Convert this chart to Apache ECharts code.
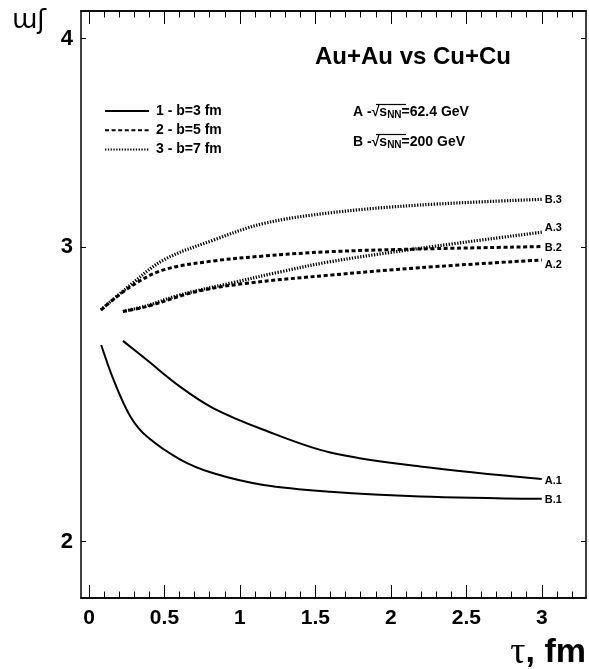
<!DOCTYPE html>
<html><head><meta charset="utf-8">
<script src="https://cdn.jsdelivr.net/npm/echarts@6/dist/echarts.min.js"></script>
<style>html,body{margin:0;padding:0;background:#fff}#c{width:589px;height:669px}</style>
</head><body><div id="c"></div>
<script>
// ---- data ----
const xTickValues = [0, 0.5, 1, 1.5, 2, 2.5, 3];
const xMinorTickValues = [0.1, 0.2, 0.3, 0.4, 0.6, 0.7, 0.8, 0.9, 1.1, 1.2, 1.3, 1.4, 1.6, 1.7, 1.8, 1.9,
  2.1, 2.2, 2.3, 2.4, 2.6, 2.7, 2.8, 2.9, 3.1, 3.2];
const yTickValues = [2, 3, 4];
const legendNames = ['1 - b=3 fm', '2 - b=5 fm', '3 - b=7 fm'];

const tauA1 = [0.225, 0.384, 0.605, 0.825, 1.156, 1.598, 2.194, 3.0];
const valA1 = [2.637, 2.568, 2.475, 2.403, 2.333, 2.261, 2.218, 2.180];
const tauB1 = [0.081, 0.163, 0.274, 0.384, 0.605, 0.825, 1.156, 1.598, 2.194, 3.0];
const valB1 = [2.622, 2.499, 2.376, 2.311, 2.239, 2.197, 2.162, 2.142, 2.128, 2.121];
const tauA2 = [0.225, 0.384, 0.715, 1.046, 1.598, 2.194, 3.0];
const valA2 = [2.746, 2.765, 2.823, 2.855, 2.887, 2.917, 2.948];
const tauB2 = [0.079, 0.274, 0.494, 0.825, 1.156, 1.598, 2.194, 3.0];
const valB2 = [2.752, 2.841, 2.908, 2.944, 2.964, 2.982, 2.993, 3.003];
const tauA3 = [0.225, 0.384, 0.605, 0.936, 1.267, 1.598, 2.194, 3.0];
const valA3 = [2.746, 2.768, 2.810, 2.855, 2.900, 2.941, 2.996, 3.063];
const tauB3 = [0.079, 0.274, 0.494, 0.825, 1.156, 1.598, 2.194, 3.0];
const valB3 = [2.752, 2.848, 2.948, 3.030, 3.100, 3.146, 3.180, 3.205];

// ---- chart ----
const FONT = '"Liberation Sans", Arial, Helvetica, sans-serif';
const BLACK = '#000';
const styles = {
  solid: { type: 'solid', width: 2 },
  dashed: { type: [4, 2.6], width: 3 },
  dotted: { type: [1.3, 1.5], width: 3.2 }
};
const zip = (t, v) => t.map((x, i) => [x, v[i]]);

function lineSeries(name, tau, val, styleKey, endText, dy) {
  return {
    type: 'line', name: name, data: zip(tau, val),
    xAxisIndex: 0, yAxisIndex: 0,
    symbol: 'none', smooth: 0.35,
    lineStyle: Object.assign({ color: BLACK, cap: 'butt' }, styles[styleKey]),
    itemStyle: { color: BLACK },
    endLabel: { show: true, formatter: endText, color: BLACK, fontSize: 11, fontWeight: 'bold',
      fontFamily: FONT, distance: 3, offset: [0, dy] },
    emphasis: { disabled: true }, silent: true, z: 3
  };
}
function legendSeries(name, styleKey) {
  return {
    type: 'line', name: name, data: [], xAxisIndex: 0, yAxisIndex: 0, symbol: 'none',
    lineStyle: Object.assign({ color: BLACK }, styles[styleKey]), itemStyle: { color: BLACK }
  };
}

const axLine = { show: true, onZero: false, lineStyle: { color: BLACK, width: 1.5 } };
const tickStyle = { color: BLACK, width: 1 };
const labelStyle = { color: BLACK, fontWeight: 'bold', fontFamily: FONT };
const xRange = { min: -0.053, max: 3.293 };
const yRange = { min: 1.85, max: 4.155 };
const richSqrt = {
  a: { fontSize: 14, fontWeight: 'bold', fontFamily: FONT, fill: BLACK },
  s: { fontSize: 14, fontWeight: 'bold', fontFamily: FONT, fill: BLACK },
  n: { fontSize: 10, fontWeight: 'bold', fontFamily: FONT, fill: BLACK, padding: [6, 0, 0, 0] }
};

const option = {
  animation: false,
  backgroundColor: '#fff',
  grid: { left: 81, top: 11, right: 3, bottom: 71, containLabel: false },
  title: {
    text: 'Au+Au vs Cu+Cu', left: 315, top: 45, padding: 0,
    textStyle: { fontSize: 24, fontWeight: 'bold', color: BLACK, fontFamily: FONT }
  },
  legend: {
    data: legendNames, orient: 'vertical', left: 104, top: 104, padding: 0,
    itemWidth: 44, itemHeight: 14, itemGap: 5.3, selectedMode: false,
    itemStyle: { opacity: 0 },
    textStyle: { fontSize: 14, fontWeight: 'bold', color: BLACK, fontFamily: FONT, padding: [0, 0, 0, 2] }
  },
  xAxis: [
    Object.assign({ type: 'value', position: 'bottom', axisLine: axLine,
      axisTick: { show: true, inside: true, length: 13, customValues: xTickValues, lineStyle: tickStyle },
      axisLabel: Object.assign({ customValues: xTickValues, fontSize: 21, margin: 10,
        formatter: v => String(v) }, labelStyle),
      splitLine: { show: false } }, xRange),
    Object.assign({ type: 'value', position: 'top', axisLine: axLine,
      axisTick: { show: true, inside: true, length: 13, customValues: xTickValues, lineStyle: tickStyle },
      axisLabel: { show: false }, splitLine: { show: false } }, xRange),
    Object.assign({ type: 'value', position: 'bottom', axisLine: axLine,
      axisTick: { show: true, inside: true, length: 6.5, customValues: xMinorTickValues, lineStyle: tickStyle },
      axisLabel: { show: false }, splitLine: { show: false } }, xRange),
    Object.assign({ type: 'value', position: 'top', axisLine: axLine,
      axisTick: { show: true, inside: true, length: 6.5, customValues: xMinorTickValues, lineStyle: tickStyle },
      axisLabel: { show: false }, splitLine: { show: false } }, xRange)
  ],
  yAxis: [
    Object.assign({ type: 'log', logBase: 10, position: 'left', axisLine: axLine,
      axisTick: { show: true, inside: true, length: 5, customValues: yTickValues, lineStyle: tickStyle },
      axisLabel: Object.assign({ customValues: yTickValues, fontSize: 22, margin: 8,
        formatter: v => String(Math.round(v)) }, labelStyle),
      splitLine: { show: false }, minorTick: { show: false } }, yRange),
    Object.assign({ type: 'log', logBase: 10, position: 'right', axisLine: axLine,
      axisTick: { show: true, inside: true, length: 5, customValues: yTickValues, lineStyle: tickStyle },
      axisLabel: { show: false }, splitLine: { show: false }, minorTick: { show: false } }, yRange)
  ],
  graphic: [
    { type: 'text', left: 12, top: 8, silent: true,
      style: { text: 'ɯʃ', fontSize: 26, fontFamily: '"DejaVu Sans", sans-serif', fill: BLACK } },
    { type: 'text', right: 3, top: 634, silent: true,
      style: { text: '{t|τ}{f|, fm}', fill: BLACK,
        rich: {
          t: { fontSize: 38, fontFamily: '"Liberation Serif", "Times New Roman", serif', fill: BLACK },
          f: { fontSize: 34, fontWeight: 'bold', fontFamily: FONT, fill: BLACK }
        } } },
    { type: 'text', left: 353, top: 105, silent: true,
      style: { text: '{a|A -√}{s|s}{n|NN}{a|=62.4 GeV}', fill: BLACK, rich: richSqrt } },
    { type: 'text', left: 353, top: 135, silent: true,
      style: { text: '{a|B -√}{s|s}{n|NN}{a|=200 GeV}', fill: BLACK, rich: richSqrt } },
    { type: 'line', silent: true, shape: { x1: 376, y1: 104.5, x2: 406, y2: 104.5 },
      style: { stroke: BLACK, lineWidth: 1.2 } },
    { type: 'line', silent: true, shape: { x1: 376, y1: 134.5, x2: 406, y2: 134.5 },
      style: { stroke: BLACK, lineWidth: 1.2 } }
  ],
  series: [
    lineSeries('A.1', tauA1, valA1, 'solid', 'A.1', 2),
    lineSeries('B.1', tauB1, valB1, 'solid', 'B.1', 1),
    lineSeries('A.2', tauA2, valA2, 'dashed', 'A.2', 5),
    lineSeries('B.2', tauB2, valB2, 'dashed', 'B.2', 1),
    lineSeries('A.3', tauA3, valA3, 'dotted', 'A.3', -4),
    lineSeries('B.3', tauB3, valB3, 'dotted', 'B.3', 1),
    legendSeries(legendNames[0], 'solid'),
    legendSeries(legendNames[1], 'dashed'),
    legendSeries(legendNames[2], 'dotted')
  ]
};
const chart = echarts.init(document.getElementById('c'));
chart.setOption(option);
</script>
</body></html>
